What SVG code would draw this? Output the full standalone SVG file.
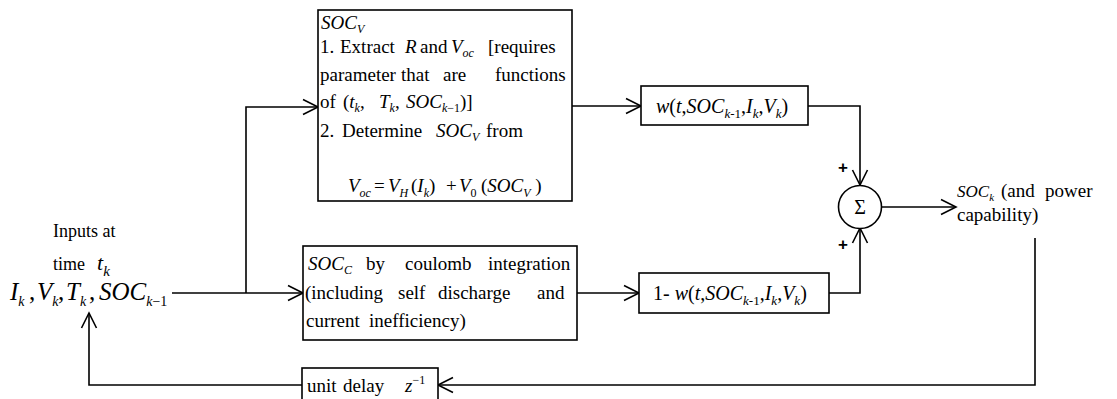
<svg xmlns="http://www.w3.org/2000/svg" width="1117" height="399" viewBox="0 0 1117 399" font-family="Liberation Serif">
<defs>
<marker id="arr" markerUnits="userSpaceOnUse" markerWidth="18" markerHeight="18" refX="16" refY="9" orient="auto">
<path d="M1,1.5 L16,9 L1,16.5" fill="none" stroke="#000" stroke-width="1.6"/>
</marker>
</defs>

<g id="connectors" fill="none" stroke="#000" stroke-width="1.6">
<path d="M172,293 H303" marker-end="url(#arr)"/>
<path d="M246,293 V107 H318" marker-end="url(#arr)"/>
<path d="M572,106 H641" marker-end="url(#arr)"/>
<path d="M808,106 H860 V185" marker-end="url(#arr)"/>
<path d="M577,293 H639" marker-end="url(#arr)"/>
<path d="M829,293 H860 V228" marker-end="url(#arr)"/>
<path d="M882,207 H956" marker-end="url(#arr)"/>
<path d="M1035,238 V385 H438" marker-end="url(#arr)"/>
<path d="M302,385 H89 V313" marker-end="url(#arr)"/>
</g>

<g id="inputs" font-family="Liberation Serif">
<text x="53" y="237" font-family="Liberation Serif" font-size="18">Inputs at</text>
<text x="53" y="270" font-family="Liberation Serif" font-size="18">time <tspan font-style="italic" font-size="22" x="97" y="270">t</tspan><tspan font-style="italic" font-size="15" y="276">k</tspan></text>
<text y="300" font-family="Liberation Serif" font-size="25"><tspan font-style="italic" x="10">I</tspan><tspan font-style="italic" font-size="14" y="306">k</tspan><tspan y="300" x="29">,</tspan><tspan font-style="italic" x="37">V</tspan><tspan font-style="italic" font-size="14" y="306">k</tspan><tspan y="300" x="58">,</tspan><tspan font-style="italic" x="66">T</tspan><tspan font-style="italic" font-size="14" y="306">k</tspan><tspan y="300" x="89">,</tspan><tspan font-style="italic" x="99">SOC</tspan><tspan font-style="italic" font-size="14" y="306">k</tspan><tspan font-size="14" y="306">−1</tspan></text>
</g>

<g id="socv" font-family="Liberation Serif">
<rect x="318" y="10" width="254" height="191" fill="#fff" stroke="#000" stroke-width="1.6"/>
<text y="29" font-family="Liberation Serif" font-size="19"><tspan font-style="italic" x="321">SOC</tspan><tspan font-style="italic" font-size="12" y="33">V</tspan></text>
<text y="53" font-family="Liberation Serif" font-size="19"><tspan x="320">1.</tspan><tspan x="340">Extract</tspan><tspan font-style="italic" x="405">R</tspan><tspan x="420">and</tspan><tspan font-style="italic" x="451">V</tspan><tspan font-style="italic" font-size="12" y="57">oc</tspan><tspan x="488" y="53">[requires</tspan></text>
<text y="81" font-family="Liberation Serif" font-size="19"><tspan x="320">parameter</tspan><tspan x="401">that</tspan><tspan x="443">are</tspan><tspan x="495">functions</tspan></text>
<text y="108" font-family="Liberation Serif" font-size="19"><tspan x="320">of</tspan><tspan x="343">(</tspan><tspan font-style="italic">t</tspan><tspan font-style="italic" font-size="12" y="112">k</tspan><tspan y="108">,</tspan><tspan font-style="italic" x="379">T</tspan><tspan font-style="italic" font-size="12" y="112">k</tspan><tspan y="108">,</tspan><tspan font-style="italic" x="406">SOC</tspan><tspan font-style="italic" font-size="12" y="112">k</tspan><tspan font-size="12" y="112">−1</tspan><tspan y="108">)]</tspan></text>
<text y="137" font-family="Liberation Serif" font-size="19"><tspan x="320">2.</tspan><tspan x="342">Determine</tspan><tspan font-style="italic" x="436">SOC</tspan><tspan font-style="italic" font-size="12" y="141">V</tspan><tspan x="486" y="137">from</tspan></text>
<text y="192" font-family="Liberation Serif" font-size="19"><tspan font-style="italic" x="348">V</tspan><tspan font-style="italic" font-size="12" y="197">oc</tspan><tspan x="374" y="192">=</tspan><tspan font-style="italic" x="388">V</tspan><tspan font-style="italic" font-size="12" y="197">H</tspan><tspan y="192" x="411">(</tspan><tspan font-style="italic">I</tspan><tspan font-style="italic" font-size="12" y="197">k</tspan><tspan y="192">)</tspan><tspan x="446">+</tspan><tspan font-style="italic" x="459">V</tspan><tspan font-size="12" y="197">0</tspan><tspan y="192" x="481">(</tspan><tspan font-style="italic">SOC</tspan><tspan font-style="italic" font-size="12" y="197">V</tspan><tspan y="192"> )</tspan></text>
</g>

<g id="socc" font-family="Liberation Serif">
<rect x="303" y="246" width="274" height="94" fill="#fff" stroke="#000" stroke-width="1.6"/>
<text y="270" font-family="Liberation Serif" font-size="19"><tspan font-style="italic" x="308">SOC</tspan><tspan font-style="italic" font-size="12" y="274">C</tspan><tspan x="366" y="270">by</tspan><tspan x="405">coulomb</tspan><tspan x="488">integration</tspan></text>
<text y="299" font-family="Liberation Serif" font-size="19"><tspan x="305">(including</tspan><tspan x="398">self</tspan><tspan x="438">discharge</tspan><tspan x="537">and</tspan></text>
<text y="327" font-family="Liberation Serif" font-size="19"><tspan x="306">current</tspan><tspan x="369">inefficiency)</tspan></text>
</g>

<g id="w" font-family="Liberation Serif">
<rect x="641" y="86" width="167" height="39" fill="#fff" stroke="#000" stroke-width="1.6"/>
<text y="113" font-family="Liberation Serif" font-size="20"><tspan font-style="italic" x="656">w</tspan><tspan>(</tspan><tspan font-style="italic">t</tspan><tspan>,</tspan><tspan font-style="italic">SOC</tspan><tspan font-style="italic" font-size="13" y="118">k</tspan><tspan font-size="13" y="118">-1</tspan><tspan y="113">,</tspan><tspan font-style="italic">I</tspan><tspan font-style="italic" font-size="13" y="118">k</tspan><tspan y="113">,</tspan><tspan font-style="italic">V</tspan><tspan font-style="italic" font-size="13" y="118">k</tspan><tspan y="113">)</tspan></text>
</g>

<g id="onemw" font-family="Liberation Serif">
<rect x="639" y="273" width="190" height="40" fill="#fff" stroke="#000" stroke-width="1.6"/>
<text y="300" font-family="Liberation Serif" font-size="20"><tspan x="653">1- </tspan><tspan font-style="italic">w</tspan><tspan>(</tspan><tspan font-style="italic">t</tspan><tspan>,</tspan><tspan font-style="italic">SOC</tspan><tspan font-style="italic" font-size="13" y="305">k</tspan><tspan font-size="13" y="305">-1</tspan><tspan y="300">,</tspan><tspan font-style="italic">I</tspan><tspan font-style="italic" font-size="13" y="305">k</tspan><tspan y="300">,</tspan><tspan font-style="italic">V</tspan><tspan font-style="italic" font-size="13" y="305">k</tspan><tspan y="300">)</tspan></text>
</g>

<g id="sum">
<circle cx="860" cy="207" r="21.5" fill="#fff" stroke="#000" stroke-width="1.6"/>
<text x="860" y="214" text-anchor="middle" font-family="Liberation Serif" font-size="20">Σ</text>
<text x="843" y="173" text-anchor="middle" font-family="Liberation Sans" font-size="17" font-weight="bold">+</text>
<text x="843" y="250" text-anchor="middle" font-family="Liberation Sans" font-size="17" font-weight="bold">+</text>
</g>

<g id="output" font-family="Liberation Serif">
<text y="197" font-family="Liberation Serif" font-size="19"><tspan font-style="italic" font-size="17" x="957">SOC</tspan><tspan font-style="italic" font-size="11" y="201">k</tspan><tspan x="1001" y="197">(and</tspan><tspan x="1045">power</tspan></text>
<text x="957" y="221" font-family="Liberation Serif" font-size="19">capability)</text>
</g>

<g id="delay" font-family="Liberation Serif">
<rect x="302" y="368" width="136" height="40" fill="#fff" stroke="#000" stroke-width="1.6"/>
<text y="392" font-family="Liberation Serif" font-size="19"><tspan x="307">unit</tspan><tspan x="343">delay</tspan><tspan font-style="italic" x="405">z</tspan><tspan font-size="12" y="384">−1</tspan></text>
</g>
</svg>
